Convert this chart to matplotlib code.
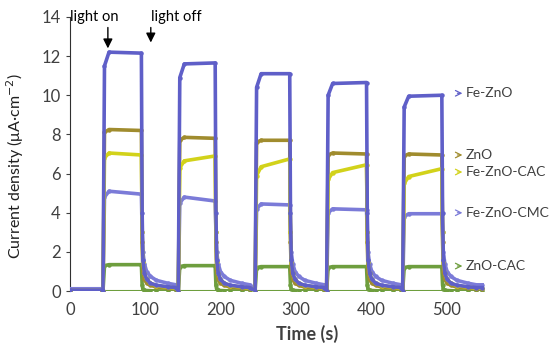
import matplotlib
matplotlib.use('Agg')
import matplotlib.pyplot as plt

plt.rcParams['font.family'] = ['Lato', 'DejaVu Sans']

# Momentos de encendido / apagado de la luz (s)
t_on = [44, 144, 246, 341, 442]
t_off = [95, 193, 292, 394, 494]
t_end = 548

# Offsets (s) tras apagar la luz para la cola de decaimiento
tail_dt = [0, 1, 2, 4, 7, 12, 20, 35, 46]

series = ['Fe-ZnO', 'ZnO', 'Fe-ZnO-CAC', 'Fe-ZnO-CMC', 'ZnO-CAC']
colores = ['#5F5FC8', '#A08C2E', '#D2D21A', '#7B7BD8', '#6E9E3E']

# Nivel al encender (hombro), nivel inicial y final de cada ciclo
hombro = {
    'Fe-ZnO': [11.5, 10.9, 10.4, 10.0, 9.4],
    'ZnO': [8.1, 7.7, 7.6, 6.95, 6.9],
    'Fe-ZnO-CAC': [6.8, 6.3, 5.9, 5.7, 5.5],
    'Fe-ZnO-CMC': [4.8, 4.5, 4.2, 4.0, 3.8],
    'ZnO-CAC': [1.3, 1.25, 1.2, 1.2, 1.2],
}
inicio = {
    'Fe-ZnO': [12.2, 11.6, 11.1, 10.6, 9.95],
    'ZnO': [8.25, 7.85, 7.7, 7.05, 7.0],
    'Fe-ZnO-CAC': [7.05, 6.65, 6.35, 6.05, 5.85],
    'Fe-ZnO-CMC': [5.1, 4.8, 4.45, 4.2, 3.95],
    'ZnO-CAC': [1.35, 1.3, 1.25, 1.25, 1.25],
}
fin = {
    'Fe-ZnO': [12.15, 11.65, 11.1, 10.65, 10.0],
    'ZnO': [8.2, 7.8, 7.7, 7.0, 6.95],
    'Fe-ZnO-CAC': [6.95, 6.9, 6.75, 6.45, 6.25],
    'Fe-ZnO-CMC': [4.95, 4.6, 4.4, 4.15, 3.95],
    'ZnO-CAC': [1.35, 1.3, 1.25, 1.25, 1.25],
}
# Cola de decaimiento tras apagar (sin el primer punto, que es el nivel final)
cola = {
    'Fe-ZnO': [4.0, 1.6, 0.9, 0.6, 0.4, 0.3, 0.22, 0.18],
    'ZnO': [2.5, 1.0, 0.6, 0.4, 0.3, 0.2, 0.15, 0.12],
    'Fe-ZnO-CAC': [3.0, 1.5, 0.9, 0.6, 0.4, 0.28, 0.2, 0.15],
    'Fe-ZnO-CMC': [3.0, 2.0, 1.4, 1.0, 0.75, 0.55, 0.4, 0.32],
    'ZnO-CAC': [0.3, 0.1, 0.05, 0.03, 0.02, 0.01, 0.01, 0.0],
}
oscuro = {'Fe-ZnO': 0.05, 'ZnO': 0.03, 'Fe-ZnO-CAC': 0.03, 'Fe-ZnO-CMC': 0.12, 'ZnO-CAC': 0.0}

# Posición vertical de las etiquetas de la derecha
label_y = [10.1, 6.95, 6.08, 4.0, 1.28]

fig = plt.figure(figsize=(5.5, 3.52), dpi=100)
ax = fig.add_axes([0.127, 0.173, 0.753, 0.779])

orden = ['ZnO-CAC', 'Fe-ZnO-CMC', 'ZnO', 'Fe-ZnO-CAC', 'Fe-ZnO']
for nombre in orden:
    i = series.index(nombre)
    xs = [0, t_on[0] - 1]
    ys = [oscuro[nombre], oscuro[nombre]]
    for k in range(5):
        xs += [t_on[k], t_on[k] + 2, t_on[k] + 8, t_off[k]]
        ys += [0, hombro[nombre][k], inicio[nombre][k], fin[nombre][k]]
        for dt, v in zip(tail_dt[1:], cola[nombre]):
            xs.append(t_off[k] + dt)
            ys.append(v)
    xs.append(t_end)
    ys.append(ys[-1])
    ax.plot(xs, ys, color=colores[i], lw=2.6, marker='o', ms=2.2,
            solid_joinstyle='round', zorder=3)

# línea base verde
ax.plot([0, t_end], [0, 0], color='#6E9E3E', lw=1.5, zorder=2)

for nombre, col, yy in zip(series, colores, label_y):
    ax.annotate('', xy=(525, yy), xytext=(511, yy),
                arrowprops=dict(arrowstyle='->', color=col, lw=0.9),
                annotation_clip=False, zorder=5)
    ax.text(526, yy, nombre, fontsize=10, color='#404040', va='center',
            clip_on=False, zorder=5)

# flechas de luz
ax.annotate('', xy=(50.5, 12.25), xytext=(50.5, 13.6),
            arrowprops=dict(arrowstyle='-|>', color='black', lw=1, mutation_scale=14))
ax.annotate('', xy=(107.5, 12.55), xytext=(107.5, 13.6),
            arrowprops=dict(arrowstyle='-|>', color='black', lw=1, mutation_scale=14))
ax.text(32, 14.0, 'light on', ha='center', va='center', fontsize=10.5)
ax.text(142, 14.0, 'light off', ha='center', va='center', fontsize=10.5)

ax.set_xlim(0, 550)
ax.set_ylim(0, 14)
ax.set_xticks([0, 100, 200, 300, 400, 500])
ax.set_yticks(range(0, 15, 2))
ax.tick_params(axis='both', labelsize=12, colors='#404040', length=3)
ax.tick_params(axis='x', length=0, pad=8)
ax.set_xlabel('Time (s)', fontsize=13, fontweight='bold', color='#404040')
ax.xaxis.set_label_coords(0.572, -0.125)
ax.set_ylabel('Current density (μA·cm$^{-2}$)', fontsize=11.5, color='#202020')
ax.yaxis.set_label_coords(-0.105, 0.456)
for s in ['top', 'right']:
    ax.spines[s].set_visible(False)
ax.spines['left'].set_color('#303030')
ax.spines['bottom'].set_visible(False)

fig.savefig('out.png', dpi=100)
